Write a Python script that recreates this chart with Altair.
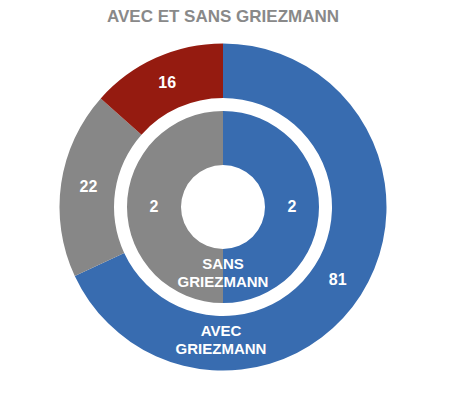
import altair as alt
import pandas as pd

results = ["Victoires", "Nuls", "Défaites"]
colors = ["#386cb0", "#878787", "#951b10"]
outer_values = [81, 22, 16]
inner_values = [2, 2]
ring_names = ["AVEC\nGRIEZMANN", "SANS\nGRIEZMANN"]
title_text = "AVEC ET SANS GRIEZMANN"

FONT = "Liberation Sans"

outer_df = pd.DataFrame({"result": results, "value": outer_values, "ord": list(range(len(outer_values)))})
inner_df = pd.DataFrame({"result": results[:len(inner_values)], "value": inner_values,
                         "ord": list(range(len(inner_values)))})

color = alt.Color("result:N", scale=alt.Scale(domain=results, range=colors), legend=None)
theta = alt.Theta("value:Q", stack=True)
order = alt.Order("ord:Q")


def ring(df, r_out, r_in, r_lab):
    base = alt.Chart(df)
    arc = base.mark_arc(radius=r_out, radius2=r_in).encode(theta=theta, color=color, order=order)
    txt = base.mark_text(radius=r_lab, font=FONT, fontSize=16, fontWeight="bold",
                         color="white", baseline="middle", align="center").encode(
        theta=theta, order=order, detail="result:N", text="value:Q")
    return alt.layer(arc, txt)


outer = ring(outer_df, 163.5, 109, 136)
inner = ring(inner_df, 96, 42, 69)


def name_label(name, x, y):
    return alt.Chart(pd.DataFrame({"name": [name]})).mark_text(
        font=FONT, fontSize=15, fontWeight="bold", color="white",
        lineBreak="\n", lineHeight=18, baseline="middle", align="center"
    ).encode(text="name:N", x=alt.value(x), y=alt.value(y))


chart = alt.layer(
    outer, inner,
    name_label(ring_names[0], 213, 283),
    name_label(ring_names[1], 215, 216),
).resolve_scale(theta="independent").properties(
    width=430, height=318,
    title=alt.TitleParams(title_text, font=FONT, fontSize=17, fontWeight="bold",
                          color="#898989", anchor="middle", baseline="alphabetic", offset=5),
    autosize=alt.AutoSizeParams(type="none"),
    padding={"left": 0, "top": 40, "right": 0, "bottom": 20},
).configure_view(stroke=None)

chart.save("out.html", embed_options={"renderer": "svg", "actions": False})
